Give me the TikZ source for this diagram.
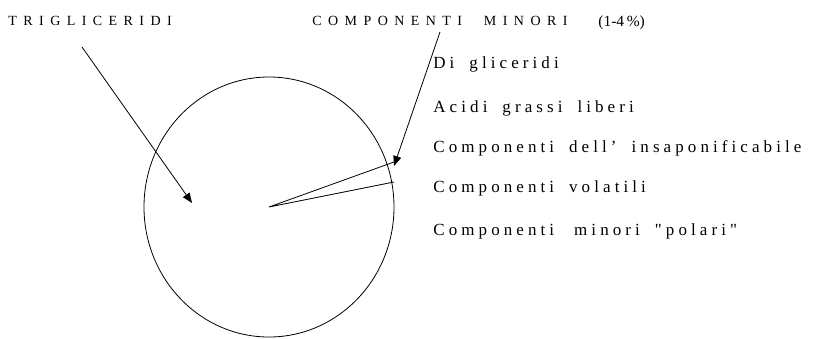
\documentclass[tikz,border=0pt]{standalone}
\usepackage{fontspec}
\setmainfont{Liberation Serif}
\usetikzlibrary{arrows.meta}
\newfontfamily\spaced[LetterSpace=24, WordSpace=1.8]{Liberation Serif}
\newfontfamily\widespaced[LetterSpace=46, WordSpace=2.2]{Liberation Serif}
\tikzset{
  every picture/.style={line width=0.8pt},
  title/.style={font=\widespaced\fontsize{14}{16}\selectfont, anchor=base west, inner sep=0pt},
  item/.style={font=\spaced\fontsize{17}{19}\selectfont, anchor=base west, inner sep=0pt},
  arrow/.style={-{Triangle[length=10pt, width=8pt]}, line width=0.8pt},
}
\begin{document}
\begin{tikzpicture}[x=1pt, y=-1pt]
  \useasboundingbox (0,0) rectangle (827,338);
  % headings
  \node[title] (trig) at (8,25) {TRIGLICERIDI};
  \node[title] (minori) at (312,25) {COMPONENTI MINORI};
  \node[anchor=base west, inner sep=0pt, font=\fontsize{15.5}{17}\selectfont] (perc) at (598,26) {(1-4\,\%)};
  % oil drop
  \coordinate (centro) at (269,207);
  \draw (centro) ellipse [x radius=125, y radius=130];
  \coordinate (fetta1) at (394,162);
  \coordinate (fetta2) at (394,182);
  \draw (fetta1) -- (centro) -- (fetta2);
  % arrows
  \coordinate (trigA) at (82,47);
  \coordinate (trigB) at (192,203);
  \coordinate (minA) at (440,32);
  \coordinate (minB) at (394,166);
  \draw[arrow] (trigA) -- (trigB);
  \draw[arrow] (minA) -- (minB);
  % list of minor components
  \node[item] (digl) at (433,68) {Di gliceridi};
  \node[item] (acidi) at (433,112) {Acidi grassi liberi};
  \node[item] (insap) at (433,152) {Componenti dell’ insaponificabile};
  \node[item] (volat) at (433,192) {Componenti volatili};
  \node[item] (polari) at (433,235) {Componenti\hspace{5pt} minori "polari"};
\end{tikzpicture}
\end{document}
